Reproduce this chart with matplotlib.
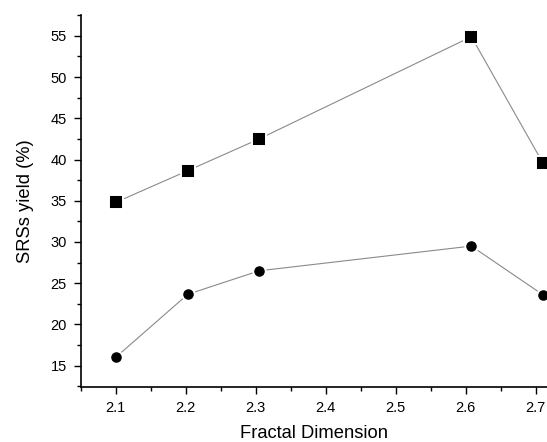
import matplotlib
matplotlib.use("Agg")
import matplotlib.pyplot as plt
from matplotlib.ticker import MultipleLocator

plt.rcParams['font.family'] = ['Liberation Sans', 'DejaVu Sans']

fractal_dim_sq = [2.10, 2.203, 2.305, 2.608, 2.71]
yield_sq = [34.8, 38.65, 42.5, 54.9, 39.6]
fractal_dim_ci = [2.10, 2.203, 2.305, 2.608, 2.71]
yield_ci = [16.0, 23.65, 26.5, 29.5, 23.6]

fig = plt.figure(figsize=(5.47, 4.42), dpi=100)
ax = fig.add_axes([0.1475, 0.1244, 0.8525, 0.842])

ax.plot(fractal_dim_sq, yield_sq, color='#8a8a8a', lw=0.8, marker='s', ms=9.5,
        mfc='black', mec='white', mew=1.4, clip_on=False, zorder=3)
ax.plot(fractal_dim_ci, yield_ci, color='#8a8a8a', lw=0.8, marker='o', ms=9.0,
        mfc='black', mec='white', mew=1.4, clip_on=False, zorder=3)

ax.set_xlim(2.05, 2.716)
ax.set_ylim(12.4, 57.55)
ax.xaxis.set_major_locator(MultipleLocator(0.1))
ax.xaxis.set_minor_locator(MultipleLocator(0.05))
ax.yaxis.set_major_locator(MultipleLocator(5))
ax.yaxis.set_minor_locator(MultipleLocator(2.5))
ax.set_xticks([2.1, 2.2, 2.3, 2.4, 2.5, 2.6, 2.7])
ax.set_xticklabels(['2.1', '2.2', '2.3', '2.4', '2.5', '2.6', '2.7'])

for s in ['top', 'right']:
    ax.spines[s].set_visible(False)
for s in ['left', 'bottom']:
    ax.spines[s].set_linewidth(1.2)

ax.tick_params(which='major', direction='out', length=5, width=1.0, labelsize=10.5, pad=5)
ax.tick_params(which='minor', direction='out', length=3, width=1.0)

ax.set_xlabel('Fractal Dimension', fontsize=13.2, labelpad=7)
ax.set_ylabel('SRSs yield (%)', fontsize=13.2, labelpad=12)

fig.savefig('out.png', dpi=100)
